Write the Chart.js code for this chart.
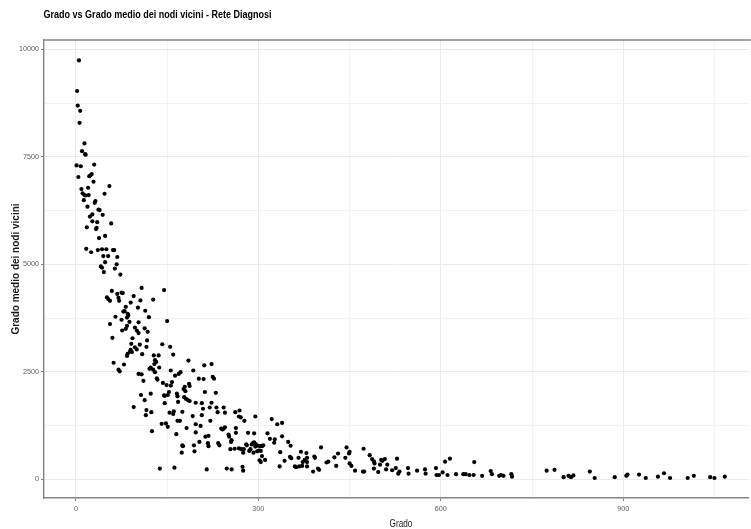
<!DOCTYPE html>
<html>
<head>
<meta charset="utf-8">
<script src="https://cdn.jsdelivr.net/npm/chart.js@4"></script>
<style>
  html, body { margin: 0; padding: 0; background: #ffffff; overflow: hidden; }
  canvas { display: block; }
</style>
</head>
<body>
<canvas id="grafico" width="751" height="529"></canvas>
<script>
// Grado di ciascun nodo della rete diagnosi
const grado = [
  5, 2, 3, 7, 6, 14, 10, 15, 16, 1,
  8, 30, 4, 22, 24, 26, 29, 55, 9, 20,
  11, 14, 16, 21, 47, 13, 31, 32, 19, 37,
  39, 44, 27, 23, 27, 35, 58, 18, 34, 33,
  38, 48, 17, 25, 36, 43, 50, 61, 63, 45,
  53, 68, 48, 41, 43, 67, 46, 64, 73, 59,
  51, 53, 56, 68, 70, 71, 75, 77, 108, 95,
  106, 127, 145, 90, 82, 80, 78, 102, 114, 65,
  85, 84, 86, 120, 75, 56, 88, 84, 82, 103,
  76, 97, 100, 113, 150, 103, 118, 60, 93, 117,
  91, 97, 90, 105, 116, 142, 155, 85, 84, 89,
  92, 100, 109, 128, 136, 160, 62, 79, 130, 132,
  129, 137, 123, 121, 127, 185, 211, 223, 70, 72,
  156, 130, 193, 103, 108, 169, 172, 163, 133, 134,
  111, 202, 210, 225, 227, 143, 149, 158, 156, 186,
  187, 179, 177, 180, 153, 151, 166, 167, 107, 123,
  145, 146, 212, 230, 181, 184, 187, 113, 178, 146,
  168, 197, 207, 220, 223, 95, 116, 115, 124, 154,
  161, 160, 175, 192, 209, 207, 231, 233, 243, 245,
  262, 268, 141, 148, 151, 167, 171, 182, 197, 205,
  221, 239, 245, 125, 165, 197, 213, 218, 175, 176,
  174, 194, 195, 203, 217, 218, 234, 236, 241, 243,
  251, 252, 256, 255, 263, 263, 254, 261, 268, 272,
  276, 275, 280, 281, 285, 287, 289, 291, 293, 295,
  296, 292, 283, 293, 299, 303, 306, 308, 298, 301,
  304, 306, 302, 304, 311, 138, 162, 215, 248, 256,
  274, 275, 295, 269, 271, 277, 322, 331, 339, 315,
  319, 326, 327, 339, 349, 353, 336, 343, 335, 352,
  354, 360, 362, 367, 366, 370, 379, 380, 373, 376,
  380, 372, 380, 392, 393, 403, 398, 400, 390, 412,
  415, 425, 431, 428, 443, 445, 449, 450, 450, 453,
  459, 472, 474, 473, 483, 487, 490, 491, 490, 497,
  500, 502, 504, 508, 512, 510, 520, 526, 528, 530,
  532, 546, 547, 561, 574, 575, 592, 593, 597, 603,
  607, 615, 611, 625, 637, 641, 647, 654, 655, 668,
  682, 684, 696, 699, 703, 716, 717, 774, 787, 802,
  810, 814, 818, 845, 853, 886, 905, 907, 926, 937,
  957, 967, 977, 1006, 1016, 1043, 1050, 1067
];

// Grado medio dei nodi vicini, nello stesso ordine
const gradoMedioVicini = [
  9740, 9030, 8690, 8570, 8290, 7810, 7630, 7560, 7550, 7300,
  7280, 7320, 7030, 7050, 7070, 7100, 6920, 6820, 6750, 6780,
  6650, 6610, 6600, 6610, 6640, 6490, 6430, 6470, 6340, 6270,
  6260, 6150, 6160, 6110, 6000, 5980, 5950, 5860, 5850, 5820,
  5610, 5660, 5360, 5280, 5330, 5350, 5350, 5330, 5330, 5190,
  5190, 5170, 5050, 4950, 4920, 5000, 4820, 4900, 4760, 4380,
  4230, 4190, 4150, 4310, 4220, 4150, 4340, 4330, 4450, 4260,
  4160, 4180, 4400, 4110, 4010, 3910, 3900, 3990, 3920, 3780,
  3850, 3760, 3810, 3770, 3710, 3610, 3660, 3570, 3500, 3650,
  3460, 3530, 3460, 3510, 3680, 3400, 3430, 3290, 3280, 3230,
  3150, 3070, 3010, 3130, 3080, 3140, 3080, 2920, 2870, 2970,
  2960, 3020, 2910, 2880, 2880, 2900, 2710, 2670, 2770, 2730,
  2680, 2600, 2600, 2570, 2550, 2760, 2650, 2680, 2550, 2510,
  2530, 2490, 2530, 2450, 2440, 2450, 2490, 2410, 2350, 2320,
  2290, 2340, 2330, 2380, 2340, 2240, 2190, 2260, 2180, 2220,
  2170, 2150, 2100, 2050, 2030, 1960, 1990, 1930, 1960, 1990,
  1950, 1940, 2030, 2010, 1870, 1840, 1820, 1840, 1910, 1770,
  1800, 1780, 1770, 1670, 1780, 1680, 1610, 1490, 1560, 1550,
  1580, 1520, 1570, 1470, 1640, 1490, 1670, 1560, 1670, 1550,
  1560, 1460, 1290, 1300, 1220, 1360, 1360, 1190, 1280, 1240,
  1360, 1180, 1210, 1120, 1050, 1090, 990, 1010, 790, 770,
  620, 790, 650, 870, 840, 770, 840, 790, 1160, 1180,
  1040, 990, 910, 870, 1080, 1190, 700, 710, 720, 700,
  700, 620, 810, 790, 660, 700, 810, 840, 860, 760,
  810, 620, 1080, 1070, 780, 770, 770, 790, 650, 670,
  660, 540, 440, 400, 450, 250, 270, 230, 250, 230,
  290, 200, 1460, 1600, 1440, 1360, 1400, 1280, 1310, 1070,
  940, 850, 930, 1000, 870, 780, 630, 430, 300, 520,
  490, 300, 280, 300, 500, 640, 610, 500, 400, 450,
  400, 310, 300, 530, 500, 740, 250, 220, 180, 390,
  410, 510, 600, 310, 500, 740, 600, 640, 370, 310,
  200, 180, 180, 710, 560, 470, 420, 370, 250, 170,
  340, 450, 430, 470, 340, 230, 210, 260, 480, 130,
  180, 260, 130, 200, 230, 130, 260, 100, 100, 160,
  410, 480, 100, 120, 120, 120, 100, 100, 400, 80,
  190, 120, 80, 100, 80, 120, 60, 200, 220, 50,
  80, 50, 90, 180, 30, 50, 80, 110, 110, 30,
  60, 140, 30, 30, 80, 50, 30, 60
];

// Tacche principali (con etichetta) e secondarie (solo griglia)
const xTicks = [0, 300, 600, 900];
const xMinorTicks = [150, 450, 750, 1050];
const yTicks = [0, 2500, 5000, 7500, 10000];
const yMinorTicks = [1250, 3750, 6250, 8750];

const titolo = 'Grado vs Grado medio dei nodi vicini - Rete Diagnosi';
const titoloX = 'Grado';
const titoloY = 'Grado medio dei nodi vicini';

// Verifica se un carattere è installato confrontando le larghezze misurate
function fontInstallato(nome) {
  const c = document.createElement('canvas').getContext('2d');
  const prova = 'abcdefghilmnopqrstuv0123456789';
  c.font = '40px monospace';
  const a = c.measureText(prova).width;
  c.font = '40px "' + nome + '", monospace';
  const b = c.measureText(prova).width;
  return a !== b;
}
const narrowNome = fontInstallato('Liberation Sans Narrow') ? 'Liberation Sans Narrow'
  : (fontInstallato('Arial Narrow') ? 'Arial Narrow' : null);
const famigliaStretta = narrowNome ? '"' + narrowNome + '", "Liberation Sans", sans-serif'
  : '"Liberation Sans", Arial, sans-serif';
const compressione = narrowNome ? 1 : 0.82;
const corpoTacche = narrowNome ? 8 : 7.2;

function costruisciTacche(principali, secondarie) {
  return principali.concat(secondarie).sort((a, b) => a - b).map(v => ({ value: v }));
}

const punti = grado.map((g, i) => ({ x: g, y: gradoMedioVicini[i] }));

function testo(ctx, str, x, y, font, colore, allinea, ruota) {
  ctx.save();
  ctx.translate(x, y);
  if (ruota) ctx.rotate(-Math.PI / 2);
  ctx.font = font;
  ctx.fillStyle = colore;
  ctx.textAlign = allinea;
  ctx.textBaseline = 'alphabetic';
  ctx.fillText(str, 0, 0);
  ctx.restore();
}

const titoliPlugin = {
  id: 'titoli',
  beforeDatasetsDraw(chart) {
    // bordo superiore del pannello
    const { ctx, chartArea } = chart;
    ctx.save();
    ctx.strokeStyle = '#858585';
    ctx.lineWidth = 1.4;
    ctx.beginPath();
    ctx.moveTo(chartArea.left, chartArea.top);
    ctx.lineTo(chartArea.right + 2, chartArea.top);
    ctx.stroke();
    ctx.restore();
  },
  afterDraw(chart) {
    const { ctx } = chart;
    // titolo principale
    ctx.save();
    ctx.translate(43.5, 17.5);
    ctx.scale(compressione, 1);
    testo(ctx, titolo, 0, 0, 'bold 11px ' + famigliaStretta, '#000000', 'left', false);
    ctx.restore();
    // titolo asse x
    ctx.save();
    ctx.translate(401, 526.5);
    ctx.scale(compressione, 1);
    testo(ctx, titoloX, 0, 0, '10px ' + famigliaStretta, '#1a1a1a', 'center', false);
    ctx.restore();
    // titolo asse y
    testo(ctx, titoloY, 18.5, 269, 'bold 10px "Liberation Sans", Arial, sans-serif', '#1a1a1a', 'center', true);
  }
};

const coloreGriglia = (principali) => (c) =>
  (c.tick && principali.includes(c.tick.value)) ? '#ebebeb' : '#f2f2f2';
const coloreTacca = (principali) => (c) =>
  (c.tick && principali.includes(c.tick.value)) ? '#858585' : 'rgba(0,0,0,0)';

new Chart(document.getElementById('grafico'), {
  type: 'scatter',
  data: {
    datasets: [{
      data: punti,
      backgroundColor: '#000000',
      borderWidth: 0,
      pointRadius: 2.1,
      pointHoverRadius: 2.1
    }]
  },
  options: {
    responsive: false,
    animation: false,
    devicePixelRatio: 1,
    layout: { padding: { top: 40, left: 0, right: 0, bottom: 0 } },
    plugins: {
      legend: { display: false },
      title: { display: false },
      tooltip: { enabled: false }
    },
    scales: {
      x: {
        type: 'linear',
        min: -52.5,
        max: 1106.6,
        afterBuildTicks: (s) => { s.ticks = costruisciTacche(xTicks, xMinorTicks); },
        afterFit: (s) => { s.height = 31; },
        ticks: {
          autoSkip: false,
          maxRotation: 0,
          padding: 3.5,
          color: '#5f5f5f',
          font: { family: famigliaStretta, size: corpoTacche },
          callback: (v) => xTicks.includes(v) ? String(v) : ''
        },
        grid: {
          color: coloreGriglia(xTicks),
          lineWidth: 1,
          drawTicks: true,
          tickLength: 3,
          tickColor: coloreTacca(xTicks)
        },
        border: { display: true, color: '#858585', width: 1.4 }
      },
      y: {
        type: 'linear',
        min: -435,
        max: 10216,
        afterBuildTicks: (s) => { s.ticks = costruisciTacche(yTicks, yMinorTicks); },
        afterFit: (s) => { s.width = 44; },
        ticks: {
          autoSkip: false,
          padding: 2,
          color: '#5f5f5f',
          font: { family: famigliaStretta, size: corpoTacche },
          callback: (v) => yTicks.includes(v) ? String(v) : ''
        },
        grid: {
          color: coloreGriglia(yTicks),
          lineWidth: 1,
          drawTicks: true,
          tickLength: 3,
          tickColor: coloreTacca(yTicks)
        },
        border: { display: true, color: '#858585', width: 1.4 }
      }
    }
  },
  plugins: [titoliPlugin]
});
</script>
</body>
</html>
